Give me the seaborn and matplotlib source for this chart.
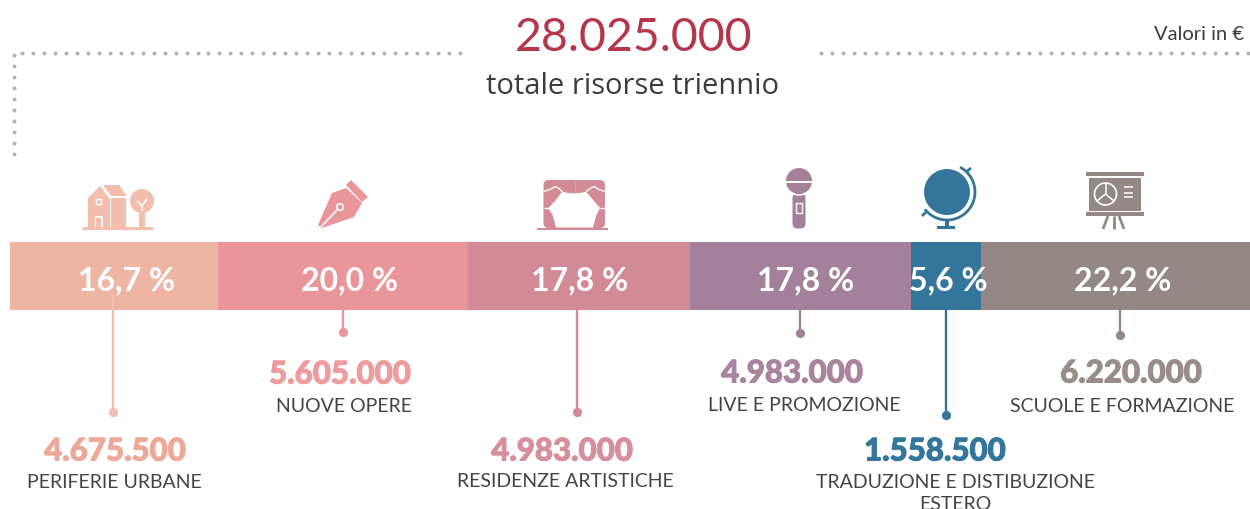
import numpy as np
import pandas as pd
import matplotlib
matplotlib.use("Agg")
import matplotlib.pyplot as plt
import matplotlib.patheffects as pe
import seaborn as sns
from matplotlib.patches import Polygon, Circle, Rectangle, FancyBboxPatch

names = ["PERIFERIE URBANE", "NUOVE OPERE", "RESIDENZE ARTISTICHE", "LIVE E PROMOZIONE",
         "TRADUZIONE E DISTIBUZIONE\nESTERO", "SCUOLE E FORMAZIONE"]
values = [4675500, 5605000, 4983000, 4983000, 1558500, 6220000]
amount_labels = ["4.675.500", "5.605.000", "4.983.000", "4.983.000", "1.558.500", "6.220.000"]
pct_labels = ["16,7 %", "20,0 %", "17,8 %", "17,8 %", "5,6 %", "22,2 %"]
colors = ["#EEB5A3", "#EA9599", "#D28B96", "#A4819B", "#34769B", "#948887"]
icon_colors = ["#F4BEAC", "#EA9599", "#D28B96", "#A4819B", "#34769B", "#948887"]
amount_colors = ["#EDA998", "#EE9BA0", "#D68F9B", "#A8849F", "#34769B", "#998D8C"]
total_label = "28.025.000"

sns.set_theme(style="white")
plt.rcParams["font.family"] = ["Lato", "DejaVu Sans"]

W, H = 1250, 509
fig = plt.figure(figsize=(W / 100, H / 100), dpi=100, facecolor="white")

# stacked bar, drawn from the cumulative values (longest first)
PX_PER_UNIT = 44.5e-6
LEFT_PX = 10.3
ax = fig.add_axes([0, 0, 1, 1])
df = pd.DataFrame({"name": names, "value": values, "color": colors})
df["cum"] = df["value"].cumsum()
for _, r in df[::-1].iterrows():
    sns.barplot(x=[r["cum"]], y=[276], orient="h", native_scale=True, width=68,
                color=r["color"], saturation=1, ax=ax, linewidth=0, errorbar=None)
ax.set_xlim(-LEFT_PX / PX_PER_UNIT, (W - LEFT_PX) / PX_PER_UNIT)
ax.set_ylim(H, 0)
ax.axis("off")

# overlay in pixel units for annotation and pictograms
ov = fig.add_axes([0, 0, 1, 1], facecolor="none")
ov.set_xlim(0, W); ov.set_ylim(H, 0); ov.axis("off")

# percentage labels
pct_x = [127, 350, 580, 806, 948, 1123]
for x, s in zip(pct_x, pct_labels):
    ov.text(x, 281, s, color="white", fontsize=23, fontweight="bold", ha="center", va="center", zorder=5)

# stems, amounts and names
stem_x = [113.4, 343.4, 576.6, 800.2, 946, 1120.2]
stem_top = [294, 310, 310, 310, 310, 310]
stem_end = [412, 331.5, 412, 332.5, 414.5, 335]
amount_x = [115, 340, 562, 792, 935, 1131]
amount_y = [451.5, 374.5, 451.5, 373.5, 451.5, 373.5]
name_x = [114, 344, 565, 804, 955, 1122]
name_y = [482.5, 406.5, 481.5, 405.5, 482.5, 406.5]
for i in range(6):
    c = icon_colors[i]
    ov.plot([stem_x[i]] * 2, [stem_top[i], stem_end[i]], color=c, lw=1.7, zorder=4, solid_capstyle="butt")
    ov.plot(stem_x[i], stem_end[i], "o", color=c, ms=6.6, mew=0, zorder=4)
    ov.text(amount_x[i], amount_y[i], amount_labels[i], color=amount_colors[i], fontsize=22.5, fontweight="black",
            ha="center", va="center",
            path_effects=[pe.withStroke(linewidth=0.7, foreground=amount_colors[i])])
    if "\n" in names[i]:
        ov.text(name_x[i], 474, names[i], color="#444444", fontsize=14, ha="center", va="top", linespacing=1.35)
    else:
        ov.text(name_x[i], name_y[i], names[i], color="#444444", fontsize=14, ha="center", va="center")

# header
ov.text(634, 38, total_label, color="#B5364B", fontsize=33.5, ha="center", va="center")
ov.text(632, 86, "totale risorse triennio", color="#3C3C3C", fontsize=21, family=["Open Sans", "DejaVu Sans"],
        ha="center", va="center")
ov.text(1199, 34, "Valori in €", color="#3C3C3C", fontsize=14.5, ha="center", va="center")

dot = dict(color="#B4B4B4", ms=2.9, mew=0, ls="none", marker="o")
top_left = np.arange(22.3, 463, 10.95)
top_right = np.arange(821, 1250, 10.95)
ys = np.arange(55.3, 157, 10.95)
ov.plot(top_left, [52.7] * len(top_left), **dot)
ov.plot(top_right, [52.7] * len(top_right), **dot)
ov.plot([14] * len(ys), ys, **dot)

# pictograms
def poly(pts, c, z=3):
    ov.add_patch(Polygon(pts, closed=True, fc=c, ec="none", zorder=z))
def line(xs, ys, c, lw=1.5, z=4):
    ov.plot(xs, ys, color=c, lw=lw, zorder=z, solid_capstyle="butt")

# house and tree
c = icon_colors[0]
poly([(88, 198), (100, 186), (110, 199), (110, 227), (88, 227)], c)
poly([(103, 185), (119, 185), (127, 196), (111, 196)], c)
poly([(111, 198), (126, 198), (126, 227), (111, 227)], c)
ov.add_patch(Rectangle((94.5, 216), 8, 11, fc="white", ec="none", zorder=4))
ov.add_patch(Rectangle((96, 218), 5, 9, fc=c, ec="none", zorder=5))
ov.add_patch(Rectangle((96, 199), 5, 5, fc="none", ec="white", lw=1, zorder=4))
ov.add_patch(Circle((142, 201), 12, fc=c, ec="none", zorder=3))
line([142, 142, 137], [211, 206, 201], "white", 1.1)
line([142, 147], [206, 199], "white", 1.1)
ov.add_patch(Rectangle((139, 211), 6, 18, fc=c, ec="none", zorder=3))
ov.add_patch(Rectangle((83, 227), 70, 2.5, fc=c, ec="none", zorder=3))

# pen nib
c = icon_colors[1]
poly([(332, 193), (346, 188), (362, 203), (354, 217), (322, 228), (318, 225)], c)
poly([(346, 185), (351, 180), (368, 197), (362, 202)], c)
line([321, 337], [227, 210], "white", 1.2)
ov.add_patch(Circle((340, 207), 3.3, fc=c, ec="white", lw=1.2, zorder=5))

# theatre stage
c = icon_colors[2]
ov.add_patch(FancyBboxPatch((543.5, 180), 61.5, 48, boxstyle="round,pad=0,rounding_size=5", fc=c, ec="none", zorder=3))
poly([(562.3, 191.7), (568, 193), (574, 193.4), (580, 193), (586, 191.7), (594, 201), (600, 208),
      (596, 216), (593, 227.5), (556, 227.5), (553, 216), (548.5, 208), (555, 201)], "white", 4)
line([548.5, 543.5], [208, 208], "white", 1)
line([600, 605], [208, 208], "white", 1)
line([543.5, 550, 555, 559, 562.3], [191.5, 189.5, 186.5, 188.5, 191.7], "white", 1)
line([605, 599, 594, 590, 586], [191.5, 189.5, 186.5, 188.5, 191.7], "white", 1)
line([574.5, 574.5], [181, 193], "#DDA5AE", 0.6)
ov.add_patch(Rectangle((537, 227.5), 71, 2.5, fc=c, ec="none", zorder=6))

# microphone
c = icon_colors[3]
ov.add_patch(Circle((799, 181), 13, fc=c, ec="none", zorder=3))
ov.add_patch(Rectangle((785, 180.5), 28, 2, fc="white", ec="none", zorder=4))
ov.add_patch(FancyBboxPatch((792.5, 193), 13, 35.5, boxstyle="round,pad=0,rounding_size=5", fc=c, ec="none", zorder=3))
t = np.linspace(0, 1, 20)
line(790 + 18 * t, 192 + 3 * (1 - (2 * t - 1) ** 2), "white", 1)
ov.add_patch(Rectangle((796, 203), 6, 10, fc="none", ec="white", lw=1, zorder=4))

# globe
c = icon_colors[4]
ov.add_patch(Circle((947, 192), 23, fc=c, ec="none", zorder=3))
th = np.deg2rad(np.linspace(-60, 140, 60))
ov.plot(947 + 28 * np.cos(th), 192 + 28 * np.sin(th), color=c, lw=2, zorder=3)
line([966, 971], [172, 168], c, 2)
line([922, 926], [216, 212], c, 2)
ov.add_patch(Rectangle((945, 219), 4, 8, fc=c, ec="none", zorder=3))
ov.add_patch(Rectangle((937, 226), 18, 2.8, fc=c, ec="none", zorder=3))

# presentation board
c = icon_colors[5]
ov.add_patch(Rectangle((1086, 172), 58, 3.6, fc=c, ec="none", zorder=3))
ov.add_patch(Rectangle((1088.5, 177.5), 52.5, 33, fc=c, ec="none", zorder=3))
ov.add_patch(Rectangle((1086, 212), 58, 3.6, fc=c, ec="none", zorder=3))
ov.add_patch(Circle((1105.5, 194), 11, fc="none", ec="white", lw=1.2, zorder=4))
line([1105.5, 1105.5], [183, 194], "white", 1.1)
line([1105.5, 1097], [194, 201], "white", 1.1)
line([1105.5, 1114], [194, 201], "white", 1.1)
for y in (187, 193, 197):
    line([1124, 1133], [y, y], "white", 1.1)
for xs in ([1108, 1103], [1113.5, 1113.5], [1119, 1124]):
    line(xs, [216, 229], c, 2)

fig.savefig("out.png", dpi=100, facecolor="white")
